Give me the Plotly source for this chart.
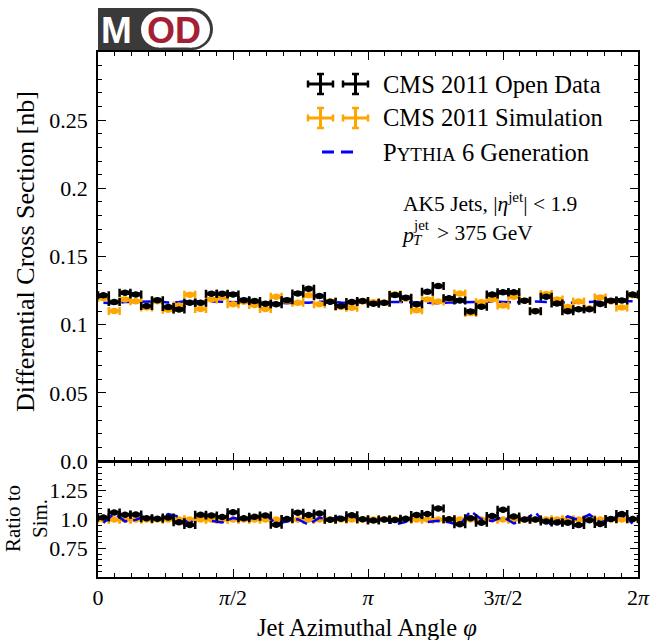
import numpy as np
import plotly.graph_objects as go

# ---------------- data ----------------
N_BINS = 50
data_vals = [0.1215, 0.1166, 0.1234, 0.1222, 0.1137, 0.1180, 0.1129, 0.1112, 0.1161, 0.1160,
             0.1227, 0.1227, 0.1222, 0.1180, 0.1173, 0.1154, 0.1150, 0.1180, 0.1229, 0.1263,
             0.1210, 0.1168, 0.1137, 0.1166, 0.1173, 0.1154, 0.1160, 0.1217, 0.1198, 0.1149,
             0.1241, 0.1283, 0.1193, 0.1178, 0.1097, 0.1132, 0.1221, 0.1237, 0.1237, 0.1176,
             0.1099, 0.1205, 0.1155, 0.1099, 0.1113, 0.1113, 0.1152, 0.1176, 0.1178, 0.1221]
sim_vals = [0.1195, 0.1100, 0.1185, 0.1172, 0.1125, 0.1172, 0.1110, 0.1140, 0.1220, 0.1115,
            0.1185, 0.1200, 0.1150, 0.1168, 0.1145, 0.1115, 0.1205, 0.1175, 0.1160, 0.1215,
            0.1150, 0.1170, 0.1130, 0.1124, 0.1170, 0.1165, 0.1160, 0.1222, 0.1190, 0.1105,
            0.1185, 0.1170, 0.1190, 0.1228, 0.1085, 0.1165, 0.1185, 0.1140, 0.1205, 0.1176,
            0.1100, 0.1225, 0.1185, 0.1130, 0.1170, 0.1120, 0.1200, 0.1170, 0.1125, 0.1215]
pythia_vals = [0.1160, 0.1158, 0.1166, 0.1168, 0.1165, 0.1170, 0.1163, 0.1166, 0.1175, 0.1168,
               0.1170, 0.1168, 0.1166, 0.1162, 0.1165, 0.1163, 0.1160, 0.1158, 0.1163, 0.1161,
               0.1168, 0.1170, 0.1162, 0.1160, 0.1165, 0.1166, 0.1168, 0.1170, 0.1166, 0.1163,
               0.1160, 0.1158, 0.1162, 0.1165, 0.1166, 0.1168, 0.1170, 0.1167, 0.1163, 0.1168,
               0.1170, 0.1166, 0.1168, 0.1160, 0.1165, 0.1168, 0.1170, 0.1172, 0.1174, 0.1172]
stat_err = 0.0008   # small statistical uncertainty on each bin

x_tick_vals = [0, np.pi / 2, np.pi, 3 * np.pi / 2, 2 * np.pi]
x_tick_text = ["0", "<i>π</i>/2", "<i>π</i>", "3<i>π</i>/2", "2<i>π</i>"]
y_tick_vals = [0.0, 0.05, 0.1, 0.15, 0.2, 0.25]
y_tick_text = ["0.0", "0.05", "0.1", "0.15", "0.2", "0.25"]
r_tick_vals = [0.75, 1.0, 1.25]
r_tick_text = ["0.75", "1.0", "1.25"]

legend_labels = ["CMS 2011 Open Data", "CMS 2011 Simulation",
                 "P<span style='font-size:19px'>YTHIA</span> 6 Generation"]

# ---------------- derived ----------------
edges = np.linspace(0, 2 * np.pi, N_BINS + 1)
centers = 0.5 * (edges[:-1] + edges[1:])
half_w = 0.5 * (edges[1] - edges[0])
data = np.array(data_vals)
sim = np.array(sim_vals)
pyth = np.array(pythia_vals)
r_data = data / sim
r_sim = sim / sim
r_pyth = pyth / sim

BLACK = "black"
ORANGE = "#ffa500"
BLUE = "#0000ff"
SERIF = "Liberation Serif"

# figure geometry (pixels)
W, H = 652, 640
L, R, T, B = 98, 14, 52, 63
PW, PH = W - L - R, H - T - B


def px(x):
    return (x - L) / PW


def py(y):
    return (H - B - y) / PH


MAIN_BOTTOM = 461
main_dom = [py(MAIN_BOTTOM), 1]
ratio_dom = [0, py(MAIN_BOTTOM + 1)]

fig = go.Figure()


def points(x, y, yerr, color, xa, ya):
    return go.Scatter(
        x=x, y=y, mode="markers", xaxis=xa, yaxis=ya, showlegend=False,
        marker=dict(color=color, size=6.5, symbol="circle"),
        error_x=dict(type="constant", value=half_w, color=color, thickness=2.5, width=4),
        error_y=dict(type="data", array=yerr, color=color, thickness=2.5, width=4),
    )


# main panel
fig.add_trace(go.Scatter(x=centers, y=pyth, mode="lines", xaxis="x", yaxis="y", showlegend=False,
                         line=dict(color=BLUE, width=2.5, dash="12px,6px")))
fig.add_trace(points(centers, sim, [stat_err] * N_BINS, ORANGE, "x", "y"))
fig.add_trace(points(centers, data, [stat_err] * N_BINS, BLACK, "x", "y"))

# ratio panel
fig.add_trace(points(centers, r_sim, list(stat_err / sim), ORANGE, "x2", "y2"))
fig.add_trace(go.Scatter(x=centers, y=r_pyth, mode="lines", xaxis="x2", yaxis="y2", showlegend=False,
                         line=dict(color=BLUE, width=2.5, dash="12px,6px")))
fig.add_trace(points(centers, r_data, list(stat_err / sim), BLACK, "x2", "y2"))

axis_common = dict(showline=True, linecolor="black", linewidth=1.5, mirror="allticks",
                   ticks="inside", ticklen=8, tickwidth=1.3, tickcolor="black",
                   showgrid=False, zeroline=False, automargin=False,
                   tickfont=dict(family=SERIF, size=22, color="black"))
minor_common = dict(ticks="inside", ticklen=4, tickwidth=1, tickcolor="black", tickmode="linear")

fig.update_layout(
    width=W, height=H, margin=dict(l=L, r=R, t=T, b=B, autoexpand=False),
    paper_bgcolor="white", plot_bgcolor="white", showlegend=False,
    xaxis=dict(axis_common, domain=[0, 1], anchor="y", range=[0, 2 * np.pi],
               tickmode="array", tickvals=x_tick_vals, ticktext=x_tick_text, showticklabels=False,
               minor=dict(minor_common, tick0=0, dtick=np.pi / 16)),
    yaxis=dict(axis_common, domain=main_dom, anchor="x", range=[0, 0.3],
               tickmode="array", tickvals=y_tick_vals, ticktext=y_tick_text, ticklabelstandoff=4,
               minor=dict(minor_common, tick0=0, dtick=0.01)),
    xaxis2=dict(axis_common, domain=[0, 1], anchor="y2", range=[0, 2 * np.pi], matches="x",
                tickmode="array", tickvals=x_tick_vals, ticktext=x_tick_text, ticklabelstandoff=0,
                minor=dict(minor_common, tick0=0, dtick=np.pi / 16)),
    yaxis2=dict(axis_common, domain=ratio_dom, anchor="x2", range=[0.5, 1.5],
                tickmode="array", tickvals=r_tick_vals, ticktext=r_tick_text, ticklabelstandoff=4,
                minor=dict(minor_common, tick0=0.5, dtick=0.05)),
)

shapes = []
annots = []


def seg(x0, y0, x1, y1, color, width=2.5, dash=None):
    shapes.append(dict(type="line", xref="paper", yref="paper", x0=px(x0), y0=py(y0),
                       x1=px(x1), y1=py(y1), line=dict(color=color, width=width, dash=dash)))


def cross(cx, cy, color):
    seg(cx - 12.5, cy, cx + 12.5, cy, color, 3)
    seg(cx, cy - 10, cx, cy + 10, color, 3)
    seg(cx - 12.5, cy - 3.5, cx - 12.5, cy + 3.5, color)
    seg(cx + 12.5, cy - 3.5, cx + 12.5, cy + 3.5, color)
    seg(cx - 3.5, cy - 10, cx + 3.5, cy - 10, color)
    seg(cx - 3.5, cy + 10, cx + 3.5, cy + 10, color)


def text(x, y, s, size, color="black", family=SERIF, xanchor="left", yanchor="middle", angle=0,
         weight="normal"):
    annots.append(dict(x=px(x), y=py(y), xref="paper", yref="paper", text=s, showarrow=False,
                       xanchor=xanchor, yanchor=yanchor, textangle=angle,
                       font=dict(family=family, size=size, color=color, weight=weight)))


# custom legend
rows = [84, 118, 152]
cross(320.5, rows[0], BLACK)
cross(355.5, rows[0], BLACK)
cross(320.5, rows[1], ORANGE)
cross(355.5, rows[1], ORANGE)
seg(322, rows[2], 334, rows[2], BLUE, width=3)
seg(341, rows[2], 353, rows[2], BLUE, width=3)
for yy, lab in zip(rows, legend_labels):
    text(381, yy, lab, 24.5)

# cut annotations
text(401, 202, "AK5 Jets, |<i>η</i><sup>jet</sup>| < 1.9", 21.5)
text(399, 235, "<i>p</i>", 22)
text(411, 240, "<i>T</i>", 15)
text(411, 225, "jet", 15)
text(435, 233, "> 375 GeV", 21.5)

# axis titles
text(367, 627, "Jet Azimuthal Angle <i>φ</i>", 24.5, xanchor="center")
text(25, 252, "Differential Cross Section [nb]", 26, xanchor="center", angle=-90)
text(26, 519, "Ratio to<br>Sim.", 21, xanchor="center", angle=-90)

# MOD logo
DARK = "#3a3a3a"
RED = "#a31f34"


def rect(x0, y0, x1, y1, color):
    shapes.append(dict(type="rect", xref="paper", yref="paper", x0=px(x0), x1=px(x1),
                       y0=py(y1), y1=py(y0), fillcolor=color, line=dict(width=0), layer="above"))


def circ(cx, cy, r, color):
    shapes.append(dict(type="circle", xref="paper", yref="paper", x0=px(cx - r), x1=px(cx + r),
                       y0=py(cy + r), y1=py(cy - r), fillcolor=color, line=dict(width=0),
                       layer="above"))


rect(98, 8, 192, 50, DARK)
circ(192, 29, 21, DARK)
rect(159, 11.5, 192, 47.5, "white")
circ(159, 29.5, 18, "white")
circ(192, 29.5, 18, "white")
text(116.5, 30, "M", 37, color="white", family="Liberation Sans", xanchor="center", weight="bold")
text(174, 30, "OD", 36, color=RED, family="Liberation Sans", xanchor="center", weight="bold")

fig.update_layout(shapes=shapes, annotations=annots)
fig.write_html("out.html")
